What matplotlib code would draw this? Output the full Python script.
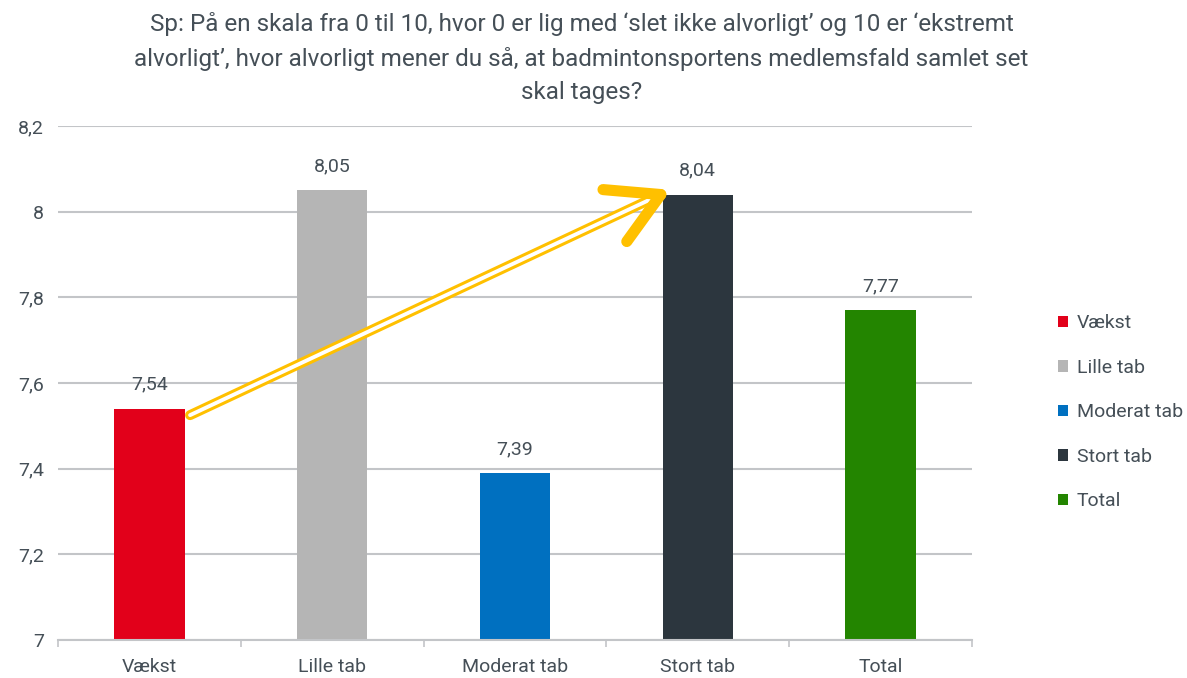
import numpy as np
import matplotlib
matplotlib.use('Agg')
import matplotlib.pyplot as plt
from matplotlib.ticker import FixedLocator, FuncFormatter

plt.rcParams['font.family'] = ['Roboto', 'DejaVu Sans']

TITLE = ('Sp: På en skala fra 0 til 10, hvor 0 er lig med \u2018slet ikke alvorligt\u2019 og 10 er \u2018ekstremt\n'
         'alvorligt\u2019, hvor alvorligt mener du så, at badmintonsportens medlemsfald samlet set\n'
         'skal tages?')
categories = ['Vækst', 'Lille tab', 'Moderat tab', 'Stort tab', 'Total']
values = [7.54, 8.05, 7.39, 8.04, 7.77]
colors = ['#E2001A', '#B5B5B5', '#0070C0', '#2C363E', '#238500']
y_ticks = [7, 7.2, 7.4, 7.6, 7.8, 8, 8.2]

TEXT = '#454F57'
GRID = '#C3C5C8'
ARROW = '#FFC000'
BAR_W = 0.385
FS = 14

fig = plt.figure(figsize=(11.87, 6.78), dpi=100)
ax = fig.add_axes([58 / 1187, 1 - 640 / 678, 914 / 1187, 514 / 678])

x = np.arange(len(categories))
for i in range(len(categories)):
    ax.bar(x[i], values[i] - 7, bottom=7, width=BAR_W, color=colors[i],
           label=categories[i], zorder=2)
    ax.text(x[i], values[i] + 0.035, f'{values[i]:.2f}'.replace('.', ','),
            ha='center', va='bottom', fontsize=FS, color=TEXT)

ax.set_xlim(-0.5, len(categories) - 0.5)
ax.set_ylim(7, 8.2)
ax.yaxis.set_major_locator(FixedLocator(y_ticks))
ax.yaxis.set_major_formatter(FuncFormatter(lambda v, p: f'{v:g}'.replace('.', ',')))
ax.tick_params(axis='y', length=0, pad=10, labelsize=FS, labelcolor=TEXT)
ax.set_xticks(x)
ax.set_xticklabels(categories)
ax.tick_params(axis='x', which='major', length=0, pad=13, labelsize=FS, labelcolor=TEXT)
ax.set_xticks(np.arange(-0.5, len(categories)), minor=True)
ax.tick_params(axis='x', which='minor', length=5, width=1.2, color=GRID)
for s in ['top', 'right', 'left']:
    ax.spines[s].set_visible(False)
ax.spines['bottom'].set_color(GRID)
ax.spines['bottom'].set_linewidth(1.5)
ax.grid(axis='y', color=GRID, linewidth=1.5, zorder=0)
ax.set_axisbelow(True)

# hollow yellow arrow from Vækst to Stort tab
to_pix = ax.transData.transform
to_data = ax.transData.inverted().transform
p0 = to_pix((x[0] + BAR_W / 2 + 0.03, values[0] - 0.015))
p1 = to_pix((x[3] - BAR_W / 2 - 0.01, values[3]))
d = (p1 - p0) / np.linalg.norm(p1 - p0)
shaft_end = p1 - d * 12
s0, s1 = to_data(p0), to_data(shaft_end)
ax.plot([s0[0], s1[0]], [s0[1], s1[1]], color=ARROW, lw=7.2,
        solid_capstyle='round', zorder=5)
ax.plot([s0[0], s1[0]], [s0[1], s1[1]], color='white', lw=2.8,
        solid_capstyle='round', zorder=6)
ang = np.arctan2(-d[1], -d[0])
for da in (np.radians(-30), np.radians(29)):
    arm = p1 + 58 * np.array([np.cos(ang + da), np.sin(ang + da)])
    a0, a1 = to_data(p1), to_data(arm)
    ax.plot([a0[0], a1[0]], [a0[1], a1[1]], color=ARROW, lw=8,
            solid_capstyle='round', zorder=7)

fig.text(0.49, 0.982, TITLE, ha='center', va='top', fontsize=17.5,
         color=TEXT, linespacing=1.55)

leg = fig.legend(loc='upper left', bbox_to_anchor=(1040 / 1187, 1 - 297 / 678),
                 frameon=False, fontsize=FS, labelcolor=TEXT, handlelength=0.55,
                 handleheight=0.55, handletextpad=0.45, labelspacing=1.36)

fig.savefig('out.png', dpi=100)
